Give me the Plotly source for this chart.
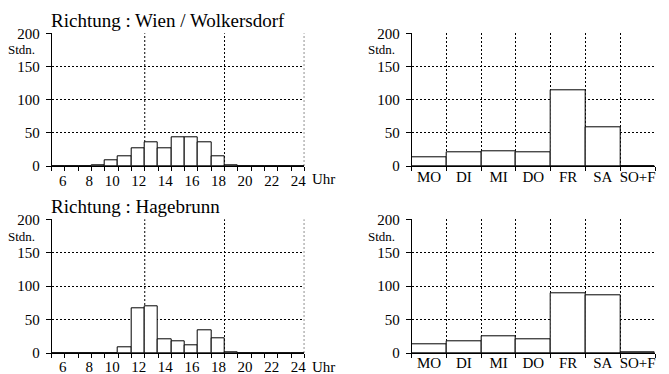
import plotly.graph_objects as go

# ---- data ----
hours = list(range(5, 24))  # bar start hours (each bar spans 1 hour)
wien_hours = [0, 0, 0, 1, 8, 15, 27, 36, 26, 43, 43, 35, 15, 1.5, 0, 0, 0, 0, 0]
hage_hours = [0, 0, 0, 0, 0, 8.5, 67, 70, 20.5, 17.5, 11.5, 34, 22, 1, 0, 0, 0, 0, 0]

days = ["MO", "DI", "MI", "DO", "FR", "SA", "SO+F"]
wien_days = [13, 21, 22, 21, 114, 58, 0]
hage_days = [13, 17.5, 25, 20, 89.5, 86, 0.5]

hour_ticks = list(range(5, 25))
# labels sit right-aligned to their tick; a leading figure space keeps one-digit labels aligned
hour_labels = [("\u2007" + str(h) if h < 10 else str(h)) if h % 2 == 0 and h >= 6 else ""
               for h in hour_ticks]
grid_hours = [12, 18, 24]
y_ticks = [0, 50, 100, 150, 200]

titles = ["Richtung : Wien / Wolkersdorf", "Richtung : Hagebrunn"]

FONT = "'Liberation Serif', 'Times New Roman', Times, serif"
# the page body has an 8px margin, so the figure is drawn offset by 8px
OFF = 8
W, H = 669 - OFF, 374 - OFF

def px_x(a, b):
    return [(a - OFF) / W, (b - OFF) / W]

def px_y(top, bottom):
    return [1 - (bottom - OFF) / H, 1 - (top - OFF) / H]

fig = go.Figure()

bar_style = dict(marker=dict(color="white", line=dict(color="black", width=1)),
                 showlegend=False, hoverinfo="skip")

fig.add_trace(go.Bar(x=hours, y=wien_hours, width=1, offset=0, xaxis="x", yaxis="y", **bar_style))
fig.add_trace(go.Bar(x=days, y=wien_days, width=1, xaxis="x2", yaxis="y2", **bar_style))
fig.add_trace(go.Bar(x=hours, y=hage_hours, width=1, offset=0, xaxis="x3", yaxis="y3", **bar_style))
fig.add_trace(go.Bar(x=days, y=hage_days, width=1, xaxis="x4", yaxis="y4", **bar_style))

left_x = px_x(51.7, 304.3)
right_x = px_x(411.7, 655)
top_y = px_y(33.3, 166)
bot_y = px_y(219.3, 353)

dash = "2px,2px"
tickfont = dict(family=FONT, size=15, color="black")

common_y = dict(range=[0, 200], tickvals=y_ticks, ticks="outside", ticklen=5, tickcolor="black",
                showline=True, linecolor="black", linewidth=1, showgrid=True, gridcolor="black",
                gridwidth=1, griddash=dash, zeroline=False, tickfont=tickfont,
                ticklabelstandoff=3, fixedrange=True, automargin=False)

hour_x = dict(range=[5, 24], tickmode="array", tickvals=hour_ticks, ticktext=hour_labels,
              ticks="outside", ticklen=4, tickcolor="black", showline=True, linecolor="black",
              linewidth=1, showgrid=False, zeroline=False, tickangle=0, ticklabelshift=-6,
              tickfont=tickfont, fixedrange=True, automargin=False)

day_x = dict(type="category", range=[-0.5, 6.5], tickson="boundaries", ticks="outside", ticklen=4,
             tickcolor="black", showline=True, linecolor="black", linewidth=1, showgrid=True,
             gridcolor="black", gridwidth=1, griddash=dash, zeroline=False, tickangle=0,
             tickfont=tickfont, fixedrange=True, automargin=False)

fig.update_layout(
    width=W, height=H,
    margin=dict(l=0, r=0, t=0, b=0, autoexpand=False),
    paper_bgcolor="white", plot_bgcolor="white",
    bargap=0,
    font=dict(family=FONT, color="black"),
    xaxis=dict(domain=left_x, anchor="y", ticklabelstandoff=-3, **hour_x),
    yaxis=dict(domain=top_y, anchor="x", **common_y),
    xaxis2=dict(domain=right_x, anchor="y2", ticklabelstandoff=-3, **day_x),
    yaxis2=dict(domain=top_y, anchor="x2", **common_y),
    xaxis3=dict(domain=left_x, anchor="y3", ticklabelstandoff=-4, **hour_x),
    yaxis3=dict(domain=bot_y, anchor="x3", **common_y),
    xaxis4=dict(domain=right_x, anchor="y4", ticklabelstandoff=-4, **day_x),
    yaxis4=dict(domain=bot_y, anchor="x4", **common_y),
)

# vertical dotted gridlines on the hour charts
shapes = []
for xr, yr in [("x", "y"), ("x3", "y3")]:
    for g in grid_hours:
        shapes.append(dict(type="line", xref=xr, yref=yr + " domain", x0=g, x1=g, y0=0, y1=1,
                           line=dict(color="black", width=1, dash=dash), layer="below"))
fig.update_layout(shapes=shapes)

annotations = []
for (xr, yr), t, ys in zip([("x", "y"), ("x3", "y3")], titles, [-3, -4]):
    annotations.append(dict(text=t, xref=xr + " domain", yref=yr + " domain", x=0, y=1,
                            xanchor="left", yanchor="bottom", xshift=-3, yshift=0, showarrow=False,
                            font=dict(family=FONT, size=19, color="black")))
    annotations.append(dict(text="Uhr", xref=xr + " domain", yref=yr, x=1, y=0,
                            xanchor="left", yanchor="top", xshift=6, yshift=ys, showarrow=False,
                            font=dict(family=FONT, size=15, color="black")))
for xr, yr in [("x", "y"), ("x2", "y2"), ("x3", "y3"), ("x4", "y4")]:
    annotations.append(dict(text="Stdn.", xref=xr + " domain", yref=yr, x=0, y=175,
                            xanchor="right", yanchor="middle", xshift=-15, showarrow=False,
                            font=dict(family=FONT, size=13, color="black")))
fig.update_layout(annotations=annotations)

fig.write_html("out.html")
